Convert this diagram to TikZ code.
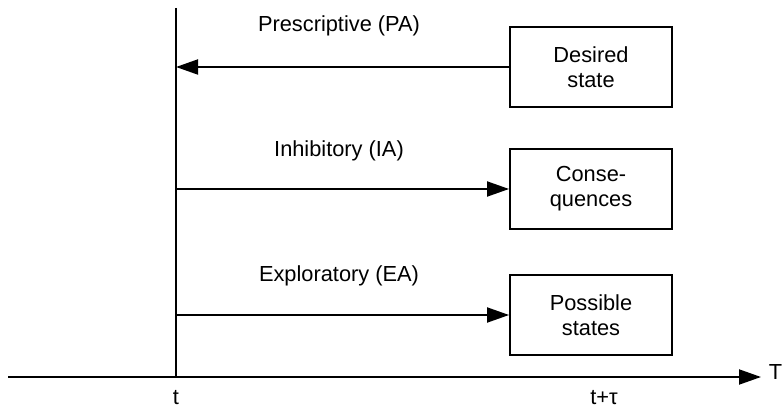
\documentclass[tikz,border=0pt]{standalone}
\usepackage{fontspec}
\setmainfont{Liberation Sans}
\usetikzlibrary{arrows.meta}
\begin{document}
\begin{tikzpicture}[x=1pt,y=-1pt,
  line width=1.9pt,
  every node/.style={font=\fontsize{21.8}{25}\selectfont},
  statebox/.style={draw, line width=1.9pt, minimum width=162pt, minimum height=80pt,
    align=center, inner sep=2pt},
  tip/.style={-{Triangle[length=22pt,width=15pt]}},
  lbl/.style={inner sep=0pt}]
\useasboundingbox (0,0) rectangle (783,411);

% time axis and the present-time line
\coordinate (ax0) at (8,377);
\coordinate (ax1) at (761,377);
\coordinate (vtop) at (176,8);
\coordinate (vbot) at (176,377);
\draw[tip] (ax0) -- (ax1);
\draw (vtop) -- (vbot);

% future states
\node[statebox] (des) at (591,67) {Desired\\state};
\node[statebox] (con) at (591,189) {Conse-\\quences};
\node[statebox] (pos) at (591,315) {Possible\\states};

% anchorage points on the present-time line
\coordinate (pa) at (176,67);
\coordinate (ia) at (176,189);
\coordinate (ea) at (176,315);

\draw[tip] (des.west) -- (pa);
\draw[tip] (ia) -- (con.west);
\draw[tip] (ea) -- (pos.west);

% attitude labels
\node[lbl] (lpa) at (339,26) {Prescriptive (PA)};
\node[lbl] (lia) at (339,151) {Inhibitory (IA)};
\node[lbl] (lea) at (339,276) {Exploratory (EA)};

% axis labels
\node[lbl] (lt) at (176,398) {t};
\node[lbl] (ltt) at (604,398) {t+τ};
\node[lbl, anchor=west] (lT) at (768,372) {T};
\end{tikzpicture}
\end{document}
